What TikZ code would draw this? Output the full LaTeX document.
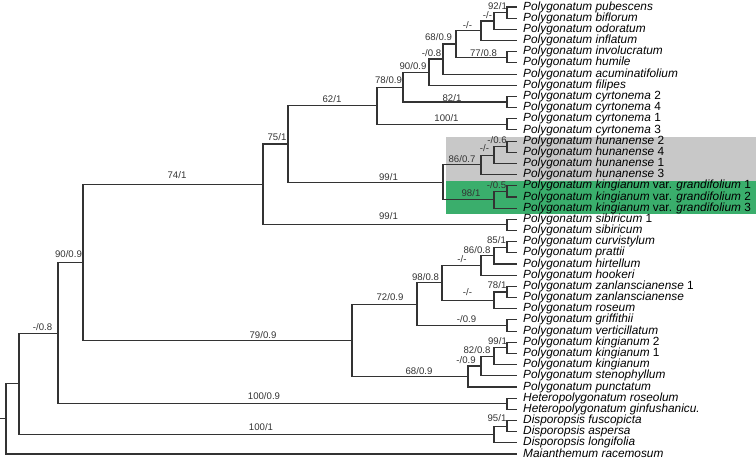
\documentclass[tikz,border=0pt]{standalone}
\usepackage{fontspec}
\setmainfont{Liberation Sans}
\definecolor{cladeGrey}{HTML}{C8C8C8}
\definecolor{cladeGreen}{HTML}{3AAE6C}
\definecolor{branchDark}{HTML}{333333}

\begin{document}
\begin{tikzpicture}[
    x=1pt, y=-1pt,
    branch/.style={draw=branchDark, line width=1.1pt},
    leaf/.style={anchor=west, inner xsep=6pt, inner ysep=0pt, text height=8.5pt, text depth=2.35pt, font=\fontsize{11.85}{13}\selectfont},
    support/.style={anchor=base, inner sep=0pt, text=branchDark, font=\fontsize{9.6}{11}\selectfont}
]
    \useasboundingbox (0,0) rectangle (756,464);
    \fill[cladeGrey] (446,137.3) rectangle (756,180.7);
    \fill[cladeGreen] (446,180.7) rectangle (756,214.3);

    \foreach \taxon [count=\i] in {
        \textit{Polygonatum pubescens}, \textit{Polygonatum biflorum},
        \textit{Polygonatum odoratum}, \textit{Polygonatum inflatum},
        \textit{Polygonatum involucratum}, \textit{Polygonatum humile},
        \textit{Polygonatum acuminatifolium}, \textit{Polygonatum filipes},
        \textit{Polygonatum cyrtonema} 2, \textit{Polygonatum cyrtonema} 4,
        \textit{Polygonatum cyrtonema} 1, \textit{Polygonatum cyrtonema} 3,
        \textit{Polygonatum hunanense} 2, \textit{Polygonatum hunanense} 4,
        \textit{Polygonatum hunanense} 1, \textit{Polygonatum hunanense} 3,
        \textit{Polygonatum kingianum} var. \textit{grandifolium} 1,
        \textit{Polygonatum kingianum} var. \textit{grandifolium} 2,
        \textit{Polygonatum kingianum} var. \textit{grandifolium} 3,
        \textit{Polygonatum sibiricum} 1, \textit{Polygonatum sibiricum},
        \textit{Polygonatum curvistylum}, \textit{Polygonatum prattii},
        \textit{Polygonatum hirtellum}, \textit{Polygonatum hookeri},
        \textit{Polygonatum zanlanscianense} 1, \textit{Polygonatum zanlanscianense},
        \textit{Polygonatum roseum}, \textit{Polygonatum griffithii},
        \textit{Polygonatum verticillatum}, \textit{Polygonatum kingianum} 2,
        \textit{Polygonatum kingianum} 1, \textit{Polygonatum kingianum},
        \textit{Polygonatum stenophyllum}, \textit{Polygonatum punctatum},
        \textit{Heteropolygonatum roseolum}, \textit{Heteropolygonatum ginfushanicu.},
        \textit{Disporopsis fuscopicta}, \textit{Disporopsis aspersa},
        \textit{Disporopsis longifolia}, \textit{Maianthemum racemosum}}
        \node[leaf] (l\i) at (517,{7+(\i-1)*11.175}) {\taxon};

    \coordinate (c1) at (507,12.59);
    \coordinate (c2) at (494,20.97);
    \coordinate (c3) at (481,30.75);
    \coordinate (c4) at (507,57.29);
    \coordinate (c5) at (456,44.02);
    \coordinate (c6) at (443,59.03);
    \coordinate (c7) at (429,72.13);
    \coordinate (c8) at (507,101.99);
    \coordinate (c9) at (403,87.06);
    \coordinate (c10) at (507,124.34);
    \coordinate (c11) at (377,105.70);
    \coordinate (c12) at (507,146.69);
    \coordinate (c13) at (494,155.07);
    \coordinate (c14) at (481,164.85);
    \coordinate (c15) at (507,191.39);
    \coordinate (c16) at (494,199.77);
    \coordinate (c17) at (443,182.31);
    \coordinate (c18) at (288,144.00);
    \coordinate (c19) at (507,224.91);
    \coordinate (c20) at (263,184.46);
    \coordinate (c21) at (507,247.26);
    \coordinate (c22) at (494,255.64);
    \coordinate (c23) at (481,265.42);
    \coordinate (c24) at (507,291.96);
    \coordinate (c25) at (494,300.34);
    \coordinate (c26) at (442,282.88);
    \coordinate (c27) at (507,325.49);
    \coordinate (c28) at (417,304.18);
    \coordinate (c29) at (507,347.84);
    \coordinate (c30) at (494,356.22);
    \coordinate (c31) at (481,366.00);
    \coordinate (c32) at (468,376.47);
    \coordinate (c33) at (352,340.33);
    \coordinate (c34) at (83,262.40);
    \coordinate (c35) at (507,403.71);
    \coordinate (c36) at (58,333.05);
    \coordinate (c37) at (507,426.06);
    \coordinate (c38) at (494,434.44);
    \coordinate (c39) at (19,383.75);
    \coordinate (root) at (6,418.90);
    \coordinate (base) at (0,418.90);

    \foreach \p/\c in {c1/l1, c1/l2, c2/c1, c2/l3, c3/c2, c3/l4, c4/l5, c4/l6,
        c5/c3, c5/c4, c6/c5, c6/l7, c7/c6, c7/l8, c8/l9, c8/l10, c9/c7, c9/c8,
        c10/l11, c10/l12, c11/c9, c11/c10, c12/l13, c12/l14, c13/c12, c13/l15,
        c14/c13, c14/l16, c15/l17, c15/l18, c16/c15, c16/l19, c17/c14, c17/c16,
        c18/c11, c18/c17, c19/l20, c19/l21, c20/c18, c20/c19, c21/l22, c21/l23,
        c22/c21, c22/l24, c23/c22, c23/l25, c24/l26, c24/l27, c25/c24, c25/l28,
        c26/c23, c26/c25, c27/l29, c27/l30, c28/c26, c28/c27, c29/l31, c29/l32,
        c30/c29, c30/l33, c31/c30, c31/l34, c32/c31, c32/l35, c33/c28, c33/c32,
        c34/c20, c34/c33, c35/l36, c35/l37, c36/c34, c36/c35, c37/l38, c37/l39,
        c38/c37, c38/l40, c39/c36, c39/c38, root/c39, root/l41}
        \draw[branch] (\p) |- (\c);
    \draw[branch] (base) -- (root);

    \node[support] at (497.5,9.5) {92/1};
    \node[support] at (487.5,18) {-/-};
    \node[support] at (467.5,28) {-/-};
    \node[support] at (483.5,56) {77/0.8};
    \node[support] at (438.5,40) {68/0.9};
    \node[support] at (431.5,56) {-/0.8};
    \node[support] at (413,69.5) {90/0.9};
    \node[support] at (452,101) {82/1};
    \node[support] at (388.5,83.3) {78/0.9};
    \node[support] at (446.5,121.7) {100/1};
    \node[support] at (332,102.5) {62/1};
    \node[support] at (497,143.5) {-/0.6};
    \node[support] at (484.5,151) {-/-};
    \node[support] at (462,162.5) {86/0.7};
    \node[support] at (496.5,188) {-/0.5};
    \node[support] at (471,196) {98/1};
    \node[support] at (388.5,180.5) {99/1};
    \node[support] at (277,140) {75/1};
    \node[support] at (388.5,219.3) {99/1};
    \node[support] at (177,178.3) {74/1};
    \node[support] at (496.5,243.7) {85/1};
    \node[support] at (477,253) {86/0.8};
    \node[support] at (462,262.5) {-/-};
    \node[support] at (497,288.3) {78/1};
    \node[support] at (467.5,295) {-/-};
    \node[support] at (425.5,280) {98/0.8};
    \node[support] at (466.5,322.7) {-/0.9};
    \node[support] at (390,300.7) {72/0.9};
    \node[support] at (497.5,344) {99/1};
    \node[support] at (477,353) {82/0.8};
    \node[support] at (466,363) {-/0.9};
    \node[support] at (419,374) {68/0.9};
    \node[support] at (263,338.3) {79/0.9};
    \node[support] at (68.5,257.3) {90/0.9};
    \node[support] at (264,399) {100/0.9};
    \node[support] at (42.5,330) {-/0.8};
    \node[support] at (497,421.7) {95/1};
    \node[support] at (261,430) {100/1};
\end{tikzpicture}
\end{document}
